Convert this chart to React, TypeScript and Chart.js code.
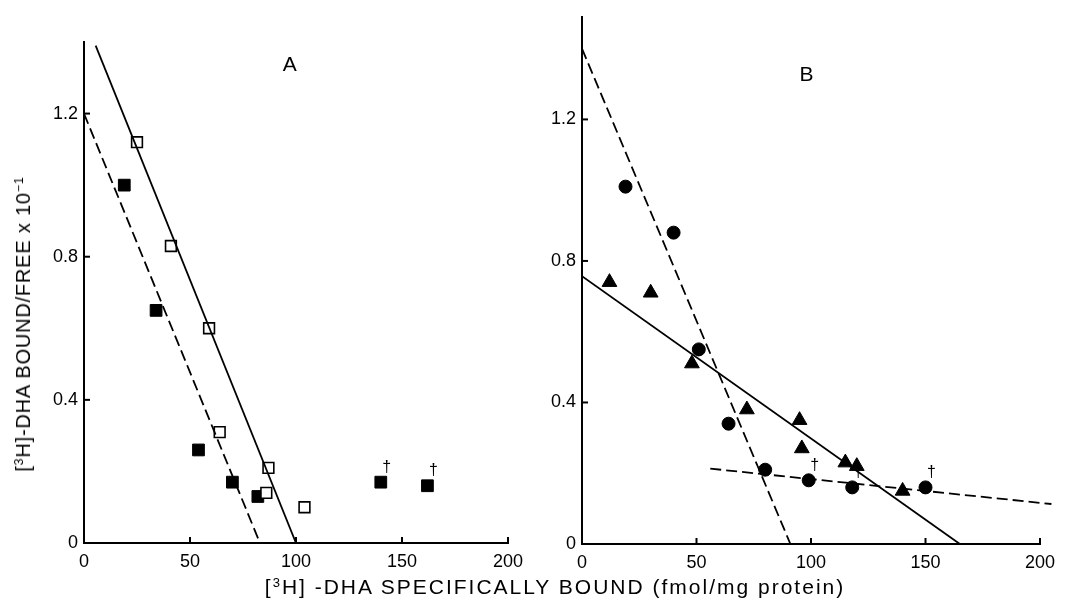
import React, { useEffect, useRef } from "react";
import { Chart, registerables } from "chart.js";
Chart.register(...registerables);

// ---- shared axes ----
const xTicks = [0, 50, 100, 150, 200];
const yTicks = [0, 0.4, 0.8, 1.2];

// ---- Panel A ----
const openSqX = [25, 41, 59, 64, 87, 86, 104];
const openSqY = [1.12, 0.83, 0.6, 0.31, 0.21, 0.14, 0.1];
const filledSqX = [19, 34, 54, 70, 82, 140, 162];
const filledSqY = [1.0, 0.65, 0.26, 0.17, 0.13, 0.17, 0.16];
const solidAX = [5.5, 100];
const solidAY = [1.39, 0];
const dashedAX = [0, 83];
const dashedAY = [1.2, 0];
const daggerAX = [140, 162];
const daggerAY = [0.17, 0.16];

// ---- Panel B ----
const circleX = [19, 40, 51, 64, 80, 99, 118, 150];
const circleY = [1.01, 0.88, 0.55, 0.34, 0.21, 0.18, 0.16, 0.16];
const triX = [12, 30, 48, 72, 95, 96, 115, 120, 140];
const triY = [0.74, 0.71, 0.51, 0.38, 0.35, 0.27, 0.23, 0.22, 0.15];
const steepDashBX = [0, 91];
const steepDashBY = [1.4, 0];
const solidBX = [0, 165];
const solidBY = [0.757, 0];
const flatDashBX = [56, 205];
const flatDashBY = [0.213, 0.113];
const daggerBX = [99, 118, 150];
const daggerBY = [0.18, 0.16, 0.16];

const FONT = '"Liberation Sans", Arial, sans-serif';

const pts = (xs: number[], ys: number[]) => xs.map((x, i) => ({ x, y: ys[i] }));

function lineDs(xs: number[], ys: number[], dashed: boolean, clip = true) {
  return {
    data: pts(xs, ys),
    showLine: true,
    borderColor: "#000",
    borderWidth: 1.8,
    borderDash: dashed ? [11, 5] : [],
    pointRadius: 0,
    fill: false,
    clip: clip ? undefined : false,
  } as any;
}

function makeOverlay(label: string, lx: number, ly: number, dx: number[], dy: number[]) {
  return {
    id: "overlay" + label,
    afterDatasetsDraw(chart: any) {
      const { ctx } = chart;
      const x = chart.scales.x;
      const y = chart.scales.y;
      ctx.save();
      ctx.strokeStyle = "#000";
      ctx.lineWidth = 2;
      for (const v of xTicks) {
        if (v === 0) continue;
        const px = x.getPixelForValue(v);
        ctx.beginPath();
        ctx.moveTo(px, y.bottom);
        ctx.lineTo(px, y.bottom - 6);
        ctx.stroke();
      }
      for (const v of yTicks) {
        if (v === 0) continue;
        const py = y.getPixelForValue(v);
        ctx.beginPath();
        ctx.moveTo(x.left, py);
        ctx.lineTo(x.left + 6, py);
        ctx.stroke();
      }
      ctx.fillStyle = "#000";
      ctx.font = "21px " + FONT;
      ctx.textAlign = "center";
      ctx.textBaseline = "middle";
      ctx.fillText(label, x.getPixelForValue(lx), y.getPixelForValue(ly));
      ctx.font = "16px " + FONT;
      dx.forEach((v, i) => {
        ctx.fillText("†", x.getPixelForValue(v) + 6, y.getPixelForValue(dy[i]) - 15);
      });
      ctx.restore();
    },
  };
}

function baseOptions(yMax: number, top: number, bottomH: number, leftW: number) {
  return {
    responsive: false,
    animation: false,
    events: [],
    layout: { padding: { top, right: 32, bottom: 0, left: 0 } },
    plugins: { legend: { display: false }, tooltip: { enabled: false } },
    scales: {
      x: {
        type: "linear",
        min: 0,
        max: 200,
        afterFit: (s: any) => {
          s.height = bottomH;
        },
        afterBuildTicks: (s: any) => {
          s.ticks = xTicks.map((v) => ({ value: v }));
        },
        grid: { display: false, drawTicks: false },
        border: { display: true, color: "#000", width: 2 },
        ticks: { color: "#000", padding: 8, font: { family: FONT, size: 18 } },
      },
      y: {
        type: "linear",
        min: 0,
        max: yMax,
        afterFit: (s: any) => {
          s.width = leftW;
        },
        afterBuildTicks: (s: any) => {
          s.ticks = yTicks.map((v) => ({ value: v }));
        },
        grid: { display: false, drawTicks: false },
        border: { display: true, color: "#000", width: 2 },
        ticks: {
          color: "#000",
          padding: 6,
          font: { family: FONT, size: 18 },
          callback: (v: number) => (v === 0 ? "0" : v.toFixed(1)),
        },
      },
    },
  } as any;
}

export default function App() {
  const refA = useRef<HTMLCanvasElement>(null);
  const refB = useRef<HTMLCanvasElement>(null);

  useEffect(() => {
    const chartA = new Chart(refA.current!, {
      type: "scatter",
      data: {
        datasets: [
          lineDs(solidAX, solidAY, false),
          lineDs(dashedAX, dashedAY, true),
          {
            data: pts(openSqX, openSqY),
            pointStyle: "rect",
            pointRadius: 7.6,
            pointBackgroundColor: "#fff",
            pointBorderColor: "#000",
            pointBorderWidth: 1.6,
          },
          {
            data: pts(filledSqX, filledSqY),
            pointStyle: "rect",
            pointRadius: 8.3,
            pointBackgroundColor: "#000",
            pointBorderColor: "#000",
            pointBorderWidth: 1,
          },
        ],
      },
      options: baseOptions(1.4, 42, 60, 84),
      plugins: [makeOverlay("A", 97, 1.335, daggerAX, daggerAY)],
    } as any);

    const chartB = new Chart(refB.current!, {
      type: "scatter",
      data: {
        datasets: [
          lineDs(steepDashBX, steepDashBY, true),
          lineDs(solidBX, solidBY, false),
          lineDs(flatDashBX, flatDashBY, true, false),
          {
            data: pts(circleX, circleY),
            pointStyle: "circle",
            pointRadius: 6.5,
            pointBackgroundColor: "#000",
            pointBorderColor: "#000",
            pointBorderWidth: 1,
          },
          {
            data: pts(triX, triY),
            pointStyle: "triangle",
            pointRadius: 8.5,
            pointBackgroundColor: "#000",
            pointBorderColor: "#000",
            pointBorderWidth: 1,
          },
        ],
      },
      options: baseOptions(1.49, 9, 59, 42),
      plugins: [makeOverlay("B", 98, 1.325, daggerBX, daggerBY)],
    } as any);

    return () => {
      chartA.destroy();
      chartB.destroy();
    };
  }, []);

  const supStyle: React.CSSProperties = {
    fontSize: "0.62em",
    position: "relative",
    top: "-0.55em",
    verticalAlign: "baseline",
    lineHeight: 0,
  };

  return (
    <div
      style={{
        position: "fixed",
        left: 0,
        top: 0,
        width: 1072,
        height: 603,
        background: "#fff",
        overflow: "hidden",
        fontFamily: FONT,
        color: "#000",
      }}
    >
      <div style={{ position: "absolute", left: 0, top: 0, width: 540, height: 603 }}>
        <canvas ref={refA} width={540} height={603} />
      </div>
      <div style={{ position: "absolute", left: 540, top: 0, width: 532, height: 603 }}>
        <canvas ref={refB} width={532} height={603} />
      </div>
      <div
        style={{
          position: "absolute",
          left: 555,
          top: 586,
          transform: "translate(-50%, -50%)",
          whiteSpace: "nowrap",
          fontSize: 21,
          letterSpacing: 2,
          lineHeight: 1,
        }}
      >
        [<span style={supStyle}>3</span>H] -DHA SPECIFICALLY BOUND (fmol/mg protein)
      </div>
      <div
        style={{
          position: "absolute",
          left: 23,
          top: 324,
          transform: "translate(-50%, -50%) rotate(-90deg)",
          whiteSpace: "nowrap",
          fontSize: 20,
          letterSpacing: 0.8,
          lineHeight: 1,
        }}
      >
        [<span style={supStyle}>3</span>H]-DHA BOUND/FREE x 10<span style={supStyle}>−1</span>
      </div>
    </div>
  );
}
